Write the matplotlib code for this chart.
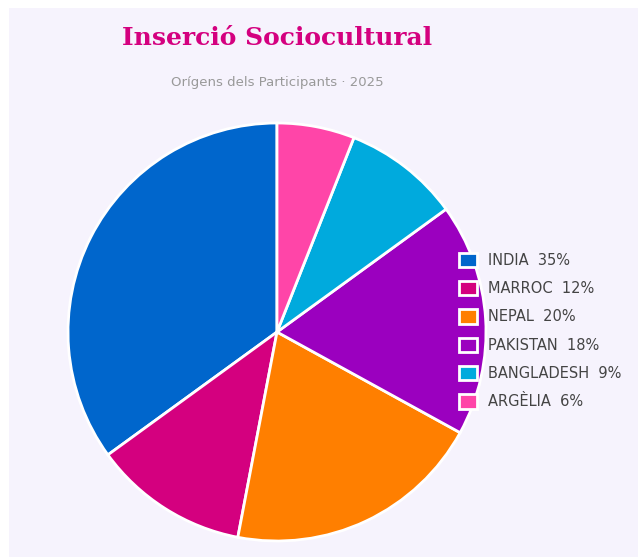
import matplotlib.pyplot as plt

# data
countries = ['INDIA', 'MARROC', 'NEPAL', 'PAKISTAN', 'BANGLADESH', 'ARGÈLIA']
shares = [35, 12, 20, 18, 9, 6]
colors = ['#0066CC', '#D4007F', '#FF7F00', '#9B00BF', '#00AADD', '#FF45A8']

W, H = 638, 557
fig = plt.figure(figsize=(W / 100, H / 100), dpi=100)
fig.patch.set_facecolor('white')

# lavender panel
bg = fig.add_axes([9 / W, 0, 1 - 9 / W, 1 - 8 / H])
bg.set_facecolor('#F6F3FD')
bg.set_xticks([])
bg.set_yticks([])
for s in bg.spines.values():
    s.set_visible(False)

# pie axes sized so the circle sits where it does in the reference
cx, cy, r = 277, 332, 209
ax = fig.add_axes([(cx - r) / W, (H - cy - r) / H, 2 * r / W, 2 * r / H])
ax.set_axis_off()
wedges, _ = ax.pie(shares, colors=colors, startangle=90, counterclock=True,
                   wedgeprops=dict(edgecolor='white', linewidth=2))
for w in wedges:
    w.set_clip_on(False)
ax.set_xlim(-1, 1)
ax.set_ylim(-1, 1)

labels = [f'{c}  {v}%' for c, v in zip(countries, shares)]
leg = fig.legend(wedges, labels, loc='center left',
                 bbox_to_anchor=(452 / W, 1 - 331 / H), frameon=False,
                 fontsize=10.5, handlelength=1.2, handleheight=1.15,
                 handletextpad=0.8, labelspacing=0.9, borderpad=0)
for t in leg.get_texts():
    t.set_color('#444444')

fig.text(277 / W, 1 - 38 / H, 'Inserció Sociocultural', ha='center', va='center',
         family='DejaVu Serif', fontweight='bold', fontsize=18, color='#D4007F')
fig.text(277 / W, 1 - 82 / H, 'Orígens dels Participants · 2025', ha='center',
         va='center', fontsize=9.5, color='#999999')

fig.savefig('out.png', dpi=100, facecolor=fig.get_facecolor())
